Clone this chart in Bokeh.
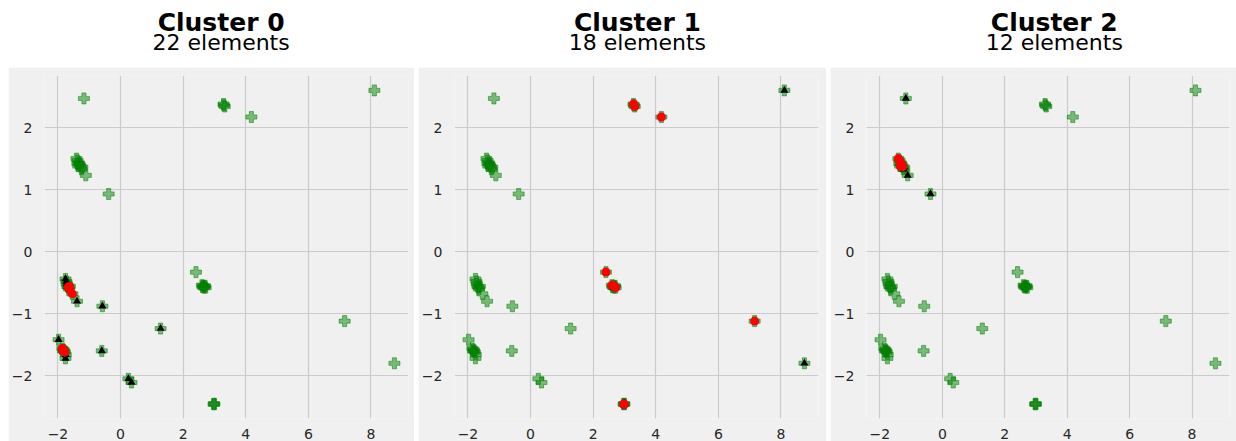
from bokeh.plotting import figure
from bokeh.models import Range1d, FixedTicker, Spacer
from bokeh.layouts import row, column
from bokeh.core.properties import value
from bokeh.embed import file_html
from bokeh.resources import INLINE

# ---- data -------------------------------------------------------------
# cluster 0 members (22)
c0_x = [-1.76, -1.73, -1.70, -1.67, -1.62, -1.65, -1.54, -1.39, -0.58, -1.98, -1.86,
        -1.82, -1.78, -1.80, -1.75, -1.76, -0.60, 0.25, 0.35, 1.28, -1.72, -1.84]
c0_y = [-0.44, -0.48, -0.56, -0.57, -0.56, -0.60, -0.68, -0.80, -0.88, -1.42, -1.56,
        -1.58, -1.62, -1.60, -1.66, -1.72, -1.60, -2.05, -2.11, -1.24, -0.52, -1.60]
c0_core = [0, 0, 0, 1, 1, 1, 1, 0, 0, 0, 1, 1, 1, 0, 0, 0, 0, 0, 0, 0, 0, 1]

# cluster 1 members (18)
c1_x = [3.29, 3.33, 3.30, 4.18, 8.11, 2.41, 2.60, 2.64, 2.68, 2.72, 2.66, 2.62,
        7.16, 8.75, 2.97, 3.00, 2.99, 2.70]
c1_y = [2.38, 2.34, 2.36, 2.17, 2.60, -0.33, -0.54, -0.55, -0.56, -0.58, -0.58, -0.57,
        -1.12, -1.80, -2.46, -2.46, -2.45, -0.55]
c1_core = [1, 1, 0, 1, 0, 1, 1, 1, 1, 1, 0, 0, 1, 0, 1, 1, 0, 0]

# cluster 2 members (12)
c2_x = [-1.41, -1.37, -1.33, -1.30, -1.27, -1.35, -1.38, -1.22, -1.25, -1.11, -1.17, -0.38]
c2_y = [1.50, 1.47, 1.43, 1.40, 1.37, 1.38, 1.42, 1.36, 1.33, 1.23, 2.47, 0.93]
c2_core = [1, 1, 1, 1, 1, 1, 0, 0, 0, 0, 0, 0]

cluster_titles = ["Cluster 0", "Cluster 1", "Cluster 2"]
cluster_counts = [22, 18, 12]

x_ticks = [-2, 0, 2, 4, 6, 8]
x_tick_labels = ["\u22122", "0", "2", "4", "6", "8"]
y_ticks = [-2, -1, 0, 1, 2]
y_tick_labels = ["\u22122", "\u22121", "0", "1", "2"]

clusters = [(c0_x, c0_y, c0_core), (c1_x, c1_y, c1_core), (c2_x, c2_y, c2_core)]
all_x = c0_x + c1_x + c2_x
all_y = c0_y + c1_y + c2_y

# ---- layout -----------------------------------------------------------
BG = "#f0f0f0"
HEADER_H = 67
PLOT_H = 374
widths = [406, 408, 406]
borders = [(34, 6), (36, 8), (33, 7)]
title_cx = [197, 205, 210]

cols = []
for i, (mx, my, core) in enumerate(clusters):
    W = widths[i]
    h = figure(width=W, height=HEADER_H, x_range=Range1d(0, W), y_range=Range1d(0, HEADER_H),
               output_backend="svg", toolbar_location=None, min_border=0,
               x_axis_location=None, y_axis_location=None, title_location=None)
    h.grid.visible = False
    h.outline_line_color = None
    h.background_fill_color = "white"
    h.border_fill_color = "white"
    h.text(x=[title_cx[i]], y=[HEADER_H - 22], text=[cluster_titles[i]],
           text_font=value("DejaVu Sans"), text_font_style="bold", text_font_size="25px",
           text_align="center", text_baseline="alphabetic", text_color="black")
    h.text(x=[title_cx[i]], y=[HEADER_H - 42], text=[f"{cluster_counts[i]} elements"],
           text_font=value("DejaVu Sans"), text_font_size="22px",
           text_align="center", text_baseline="alphabetic", text_color="black")

    p = figure(width=W, height=PLOT_H, x_range=Range1d(-2.43, 9.2), y_range=Range1d(-2.69, 2.84),
               output_backend="svg", toolbar_location=None, title_location=None,
               min_border_left=borders[i][0], min_border_right=borders[i][1],
               min_border_top=8, min_border_bottom=23)
    p.background_fill_color = BG
    p.border_fill_color = BG
    p.outline_line_color = None
    p.grid.grid_line_color = "#cbcbcb"
    p.grid.grid_line_width = 1.2
    p.xaxis.ticker = FixedTicker(ticks=x_ticks)
    p.yaxis.ticker = FixedTicker(ticks=y_ticks)
    p.xaxis.major_label_overrides = dict(zip(x_ticks, x_tick_labels))
    p.yaxis.major_label_overrides = dict(zip(y_ticks, y_tick_labels))
    for ax in (p.xaxis, p.yaxis):
        ax.axis_line_color = None
        ax.major_tick_line_color = None
        ax.minor_tick_line_color = None
        ax.major_label_text_font = "DejaVu Sans"
        ax.major_label_text_font_size = "14px"
        ax.major_label_text_color = "#262626"
    p.xaxis.major_label_standoff = 4
    p.yaxis.major_label_standoff = 6

    # all points as green crosses
    p.scatter(all_x, all_y, marker="plus", size=11, fill_color="green", fill_alpha=0.5,
              line_color="green", line_alpha=0.5, line_width=1)
    # members of the cluster as black triangles
    p.scatter(mx, my, marker="triangle", size=8, fill_color="black", line_color=None)
    # core members as red circles
    cx = [x for x, c in zip(mx, core) if c]
    cy = [y for y, c in zip(my, core) if c]
    p.scatter(cx, cy, marker="circle", size=9, fill_color="red", line_color=None)

    cols.append(column(h, p, spacing=0))

layout = row(Spacer(width=4, height=HEADER_H + PLOT_H), *cols, spacing=4)

open("out.html", "w").write(file_html(layout, INLINE))
